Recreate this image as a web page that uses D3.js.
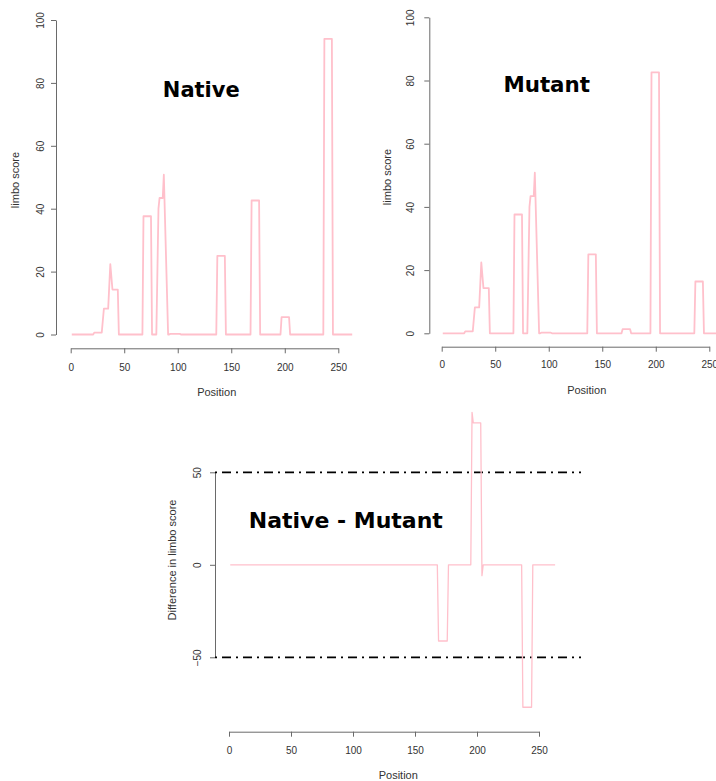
<!DOCTYPE html>
<html>
<head>
<meta charset="utf-8">
<script src="https://cdn.jsdelivr.net/npm/d3@7"></script>
<style>
  html, body { margin: 0; padding: 0; background: #ffffff; }
  svg { display: block; }
</style>
</head>
<body>
<svg id="chart" width="716" height="781"></svg>
<script>
// ---------------- DATA ----------------
const nativePos   = [1, 21, 22, 29, 31, 35, 37, 39, 44, 45, 67, 68, 75, 76, 80, 82, 83, 86, 87, 91, 92, 93, 102, 103, 136, 137, 144, 145, 168, 169, 176, 177, 196, 197, 204, 205, 236, 237, 244, 245, 263];
const nativeScore = [0, 0, 0.6, 0.6, 8.2, 8.2, 22.4, 14.3, 14.3, 0, 0, 37.6, 37.6, 0, 0, 40, 43.4, 43.4, 50.8, 0, 0, 0.2, 0.2, 0, 0, 25, 25, 0, 0, 42.6, 42.6, 0, 0, 5.5, 5.5, 0, 0, 94, 94, 0, 0];

const mutantPos   = [1, 21, 22, 29, 31, 35, 37, 39, 44, 45, 67, 68, 75, 76, 80, 82, 83, 86, 87, 91, 92, 93, 102, 103, 136, 137, 144, 145, 168, 169, 176, 177, 195, 196, 203, 204, 236, 237, 244, 245, 263];
const mutantScore = [0, 0, 0.6, 0.6, 8.2, 8.2, 22.4, 14.3, 14.3, 0, 0, 37.6, 37.6, 0, 0, 40, 43.4, 43.4, 50.8, 0, 0, 0.2, 0.2, 0, 0, 25, 25, 0, 0, 1.3, 1.3, 0, 0, 82.6, 82.6, 0, 0, 16.4, 16.4, 0, 0];

const diffPos   = [1, 168, 169, 176, 177, 195, 196, 197, 203, 204, 205, 236, 237, 244, 245, 263];
const diffScore = [0, 0, -41.2, -41.2, 0, 0, 82.4, 76.7, 76.7, -5.9, 0, 0, -77, -77, 0, 0];

const xTicks     = [0, 50, 100, 150, 200, 250];
const yTicksTop  = [0, 20, 40, 60, 80, 100];
const yTicksDiff = [-50, 0, 50];
const thresholds = [50, -50];

const titles = ["Native", "Mutant", "Native - Mutant"];
const xTitle = "Position";
const yTitleTop = "limbo score";
const yTitleDiff = "Difference in limbo score";

// ---------------- LAYOUT ----------------
const svg = d3.select("#chart");
const AXIS_COLOR = "#6a6a6a";
const TEXT_COLOR = "#333333";
const LINE_COLOR = "#ffc0cb";

function toPoints(pos, val) { return pos.map((p, i) => [p, val[i]]); }

function drawPanel(cfg) {
  const x = d3.scaleLinear().domain([0, 250]).range(cfg.xRange);
  const y = d3.scaleLinear().domain(cfg.yDomain).range(cfg.yRange);
  const g = svg.append("g");

  // x axis
  const gx = g.append("g")
    .attr("transform", `translate(0,${cfg.xAxisY})`)
    .call(d3.axisBottom(x).tickValues(xTicks).tickSize(5).tickSizeOuter(0).tickPadding(cfg.xPad));
  gx.selectAll("path, line").attr("stroke", AXIS_COLOR).attr("stroke-width", 1);
  gx.selectAll("text").attr("fill", TEXT_COLOR)
    .style("font-family", "'Liberation Sans', Arial, sans-serif").style("font-size", "10px");

  // y axis
  const gy = g.append("g")
    .attr("transform", `translate(${cfg.yAxisX},0)`)
    .call(d3.axisLeft(y).tickValues(cfg.yTicks).tickSize(5).tickSizeOuter(0).tickFormat(d3.format("d")));
  gy.selectAll("path, line").attr("stroke", AXIS_COLOR).attr("stroke-width", 1);
  gy.selectAll("text")
    .attr("x", null).attr("dy", null)
    .attr("transform", d => `translate(${-cfg.yTickOff},0) rotate(-90)`)
    .attr("x", 0).attr("y", 0).attr("dy", "0.36em")
    .attr("text-anchor", "middle")
    .attr("fill", TEXT_COLOR)
    .style("font-family", "'Liberation Sans', Arial, sans-serif").style("font-size", "10px");
  gy.selectAll(".tick text").attr("text-anchor", "middle");

  // axis titles
  g.append("text")
    .attr("x", cfg.xTitlePos[0]).attr("y", cfg.xTitlePos[1]).attr("dy", "0.35em")
    .attr("text-anchor", "middle").attr("fill", TEXT_COLOR)
    .style("font-family", "'Liberation Sans', Arial, sans-serif").style("font-size", "11px")
    .text(xTitle);
  g.append("text")
    .attr("transform", `translate(${cfg.yTitlePos[0]},${cfg.yTitlePos[1]}) rotate(-90)`)
    .attr("dy", "0.35em")
    .attr("text-anchor", "middle").attr("fill", TEXT_COLOR)
    .style("font-family", "'Liberation Sans', Arial, sans-serif").style("font-size", "11px")
    .text(cfg.yTitle);

  // threshold lines
  if (cfg.thresholds) {
    g.selectAll("line.thr").data(cfg.thresholds).enter().append("line")
      .attr("class", "thr")
      .attr("x1", cfg.plotX[0]).attr("x2", cfg.plotX[1])
      .attr("y1", d => y(d)).attr("y2", d => y(d))
      .attr("stroke", "#000").attr("stroke-width", 1.8)
      .attr("stroke-dasharray", "2,5,9,5");
  }

  // data line
  const line = d3.line().x(d => x(d[0])).y(d => y(d[1])).curve(d3.curveLinear);
  g.append("path")
    .datum(toPoints(cfg.pos, cfg.val))
    .attr("d", line)
    .attr("fill", "none")
    .attr("stroke", LINE_COLOR)
    .attr("stroke-width", cfg.lw)
    .attr("stroke-linejoin", "round");

  // big title
  g.append("text")
    .attr("x", cfg.titlePos[0]).attr("y", cfg.titlePos[1])
    .attr("text-anchor", "middle").attr("fill", "#000")
    .style("font-family", "'DejaVu Sans', Verdana, sans-serif")
    .style("font-weight", "bold").style("font-size", cfg.titleSize + "px")
    .text(cfg.title);
}

drawPanel({
  xRange: [70.7, 338.3], yDomain: [0, 100], yRange: [334.5, 20],
  xAxisY: 348.3, yAxisX: 56, xPad: 10.5, yTicks: yTicksTop, yTickOff: 16,
  xTitlePos: [216.7, 391.7], yTitlePos: [15, 180], yTitle: yTitleTop,
  pos: nativePos, val: nativeScore, lw: 1.8,
  title: titles[0], titlePos: [201.3, 97], titleSize: 21
});

drawPanel({
  xRange: [441.7, 709.3], yDomain: [0, 100], yRange: [333.3, 17.3],
  xAxisY: 346.7, yAxisX: 429.3, xPad: 9.5, yTicks: yTicksTop, yTickOff: 19,
  xTitlePos: [586.7, 390], yTitlePos: [387, 177], yTitle: yTitleTop,
  pos: mutantPos, val: mutantScore, lw: 1.8,
  title: titles[1], titlePos: [546.7, 91.7], titleSize: 21.4
});

drawPanel({
  xRange: [229, 539], yDomain: [-50, 50], yRange: [657.3, 472.3],
  xAxisY: 731.7, yAxisX: 215, xPad: 10, yTicks: yTicksDiff, yTickOff: 17.7,
  xTitlePos: [398.3, 775], yTitlePos: [171.7, 560], yTitle: yTitleDiff,
  pos: diffPos, val: diffScore, lw: 1.3,
  thresholds: thresholds, plotX: [215, 581],
  title: titles[2], titlePos: [345.8, 528.3], titleSize: 22
});
</script>
</body>
</html>
